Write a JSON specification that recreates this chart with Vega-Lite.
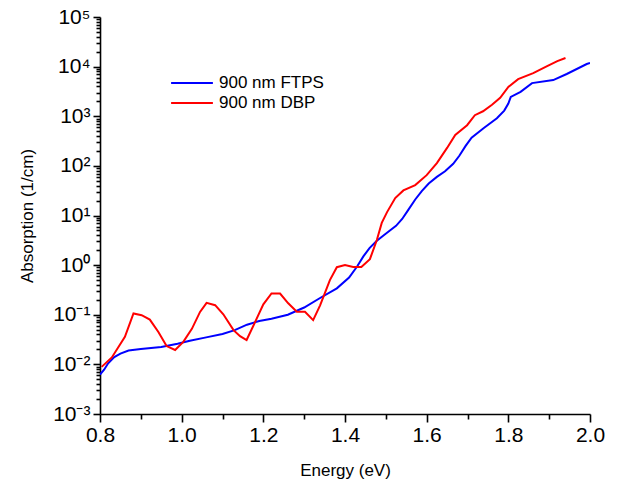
{
  "$schema": "https://vega.github.io/schema/vega-lite/v6.json",
  "width": 490,
  "height": 397,
  "autosize": "none",
  "padding": {"left": 100, "top": 17, "right": 28, "bottom": 70},
  "background": "white",
  "config": {
    "view": {"stroke": null},
    "font": "Liberation Sans",
    "axis": {"grid": false, "domainColor": "black", "tickColor": "black", "domainWidth": 1.6, "tickWidth": 1.6, "labelColor": "black", "titleColor": "black", "labelFont": "Liberation Sans", "titleFont": "Liberation Sans", "titleFontWeight": "normal"}
  },
  "data": {
    "values": [
      {"E": 0.800, "A": 0.0062, "s": "900 nm FTPS"},
      {"E": 0.810, "A": 0.0078, "s": "900 nm FTPS"},
      {"E": 0.820, "A": 0.0105, "s": "900 nm FTPS"},
      {"E": 0.835, "A": 0.014, "s": "900 nm FTPS"},
      {"E": 0.850, "A": 0.0165, "s": "900 nm FTPS"},
      {"E": 0.870, "A": 0.019, "s": "900 nm FTPS"},
      {"E": 0.900, "A": 0.0205, "s": "900 nm FTPS"},
      {"E": 0.950, "A": 0.0225, "s": "900 nm FTPS"},
      {"E": 0.990, "A": 0.026, "s": "900 nm FTPS"},
      {"E": 1.020, "A": 0.030, "s": "900 nm FTPS"},
      {"E": 1.060, "A": 0.035, "s": "900 nm FTPS"},
      {"E": 1.100, "A": 0.041, "s": "900 nm FTPS"},
      {"E": 1.130, "A": 0.049, "s": "900 nm FTPS"},
      {"E": 1.160, "A": 0.063, "s": "900 nm FTPS"},
      {"E": 1.190, "A": 0.075, "s": "900 nm FTPS"},
      {"E": 1.220, "A": 0.083, "s": "900 nm FTPS"},
      {"E": 1.260, "A": 0.100, "s": "900 nm FTPS"},
      {"E": 1.300, "A": 0.140, "s": "900 nm FTPS"},
      {"E": 1.340, "A": 0.220, "s": "900 nm FTPS"},
      {"E": 1.380, "A": 0.340, "s": "900 nm FTPS"},
      {"E": 1.410, "A": 0.560, "s": "900 nm FTPS"},
      {"E": 1.430, "A": 0.95, "s": "900 nm FTPS"},
      {"E": 1.445, "A": 1.5, "s": "900 nm FTPS"},
      {"E": 1.460, "A": 2.2, "s": "900 nm FTPS"},
      {"E": 1.478, "A": 3.1, "s": "900 nm FTPS"},
      {"E": 1.495, "A": 4.0, "s": "900 nm FTPS"},
      {"E": 1.510, "A": 5.0, "s": "900 nm FTPS"},
      {"E": 1.525, "A": 6.2, "s": "900 nm FTPS"},
      {"E": 1.540, "A": 8.5, "s": "900 nm FTPS"},
      {"E": 1.555, "A": 13, "s": "900 nm FTPS"},
      {"E": 1.572, "A": 21, "s": "900 nm FTPS"},
      {"E": 1.588, "A": 31, "s": "900 nm FTPS"},
      {"E": 1.605, "A": 44, "s": "900 nm FTPS"},
      {"E": 1.625, "A": 60, "s": "900 nm FTPS"},
      {"E": 1.645, "A": 78, "s": "900 nm FTPS"},
      {"E": 1.665, "A": 110, "s": "900 nm FTPS"},
      {"E": 1.680, "A": 160, "s": "900 nm FTPS"},
      {"E": 1.695, "A": 250, "s": "900 nm FTPS"},
      {"E": 1.710, "A": 370, "s": "900 nm FTPS"},
      {"E": 1.740, "A": 580, "s": "900 nm FTPS"},
      {"E": 1.772, "A": 910, "s": "900 nm FTPS"},
      {"E": 1.790, "A": 1300, "s": "900 nm FTPS"},
      {"E": 1.800, "A": 1800, "s": "900 nm FTPS"},
      {"E": 1.806, "A": 2450, "s": "900 nm FTPS"},
      {"E": 1.830, "A": 3100, "s": "900 nm FTPS"},
      {"E": 1.858, "A": 4650, "s": "900 nm FTPS"},
      {"E": 1.910, "A": 5350, "s": "900 nm FTPS"},
      {"E": 1.943, "A": 7100, "s": "900 nm FTPS"},
      {"E": 1.992, "A": 11300, "s": "900 nm FTPS"},
      {"E": 2.000, "A": 11800, "s": "900 nm FTPS"},
      {"E": 0.804, "A": 0.0089, "s": "900 nm DBP"},
      {"E": 0.829, "A": 0.0138, "s": "900 nm DBP"},
      {"E": 0.861, "A": 0.036, "s": "900 nm DBP"},
      {"E": 0.882, "A": 0.106, "s": "900 nm DBP"},
      {"E": 0.902, "A": 0.098, "s": "900 nm DBP"},
      {"E": 0.922, "A": 0.080, "s": "900 nm DBP"},
      {"E": 0.943, "A": 0.045, "s": "900 nm DBP"},
      {"E": 0.963, "A": 0.0234, "s": "900 nm DBP"},
      {"E": 0.984, "A": 0.0195, "s": "900 nm DBP"},
      {"E": 1.004, "A": 0.0284, "s": "900 nm DBP"},
      {"E": 1.025, "A": 0.052, "s": "900 nm DBP"},
      {"E": 1.045, "A": 0.114, "s": "900 nm DBP"},
      {"E": 1.061, "A": 0.174, "s": "900 nm DBP"},
      {"E": 1.082, "A": 0.156, "s": "900 nm DBP"},
      {"E": 1.102, "A": 0.102, "s": "900 nm DBP"},
      {"E": 1.127, "A": 0.049, "s": "900 nm DBP"},
      {"E": 1.143, "A": 0.037, "s": "900 nm DBP"},
      {"E": 1.159, "A": 0.031, "s": "900 nm DBP"},
      {"E": 1.180, "A": 0.072, "s": "900 nm DBP"},
      {"E": 1.200, "A": 0.162, "s": "900 nm DBP"},
      {"E": 1.220, "A": 0.268, "s": "900 nm DBP"},
      {"E": 1.241, "A": 0.268, "s": "900 nm DBP"},
      {"E": 1.261, "A": 0.170, "s": "900 nm DBP"},
      {"E": 1.282, "A": 0.115, "s": "900 nm DBP"},
      {"E": 1.302, "A": 0.115, "s": "900 nm DBP"},
      {"E": 1.322, "A": 0.078, "s": "900 nm DBP"},
      {"E": 1.339, "A": 0.155, "s": "900 nm DBP"},
      {"E": 1.363, "A": 0.50, "s": "900 nm DBP"},
      {"E": 1.380, "A": 0.91, "s": "900 nm DBP"},
      {"E": 1.400, "A": 1.0, "s": "900 nm DBP"},
      {"E": 1.420, "A": 0.92, "s": "900 nm DBP"},
      {"E": 1.440, "A": 0.92, "s": "900 nm DBP"},
      {"E": 1.461, "A": 1.32, "s": "900 nm DBP"},
      {"E": 1.478, "A": 3.2, "s": "900 nm DBP"},
      {"E": 1.490, "A": 7.1, "s": "900 nm DBP"},
      {"E": 1.503, "A": 11.7, "s": "900 nm DBP"},
      {"E": 1.523, "A": 22.5, "s": "900 nm DBP"},
      {"E": 1.543, "A": 32, "s": "900 nm DBP"},
      {"E": 1.572, "A": 41, "s": "900 nm DBP"},
      {"E": 1.600, "A": 65, "s": "900 nm DBP"},
      {"E": 1.625, "A": 114, "s": "900 nm DBP"},
      {"E": 1.650, "A": 230, "s": "900 nm DBP"},
      {"E": 1.670, "A": 420, "s": "900 nm DBP"},
      {"E": 1.699, "A": 660, "s": "900 nm DBP"},
      {"E": 1.718, "A": 1050, "s": "900 nm DBP"},
      {"E": 1.738, "A": 1260, "s": "900 nm DBP"},
      {"E": 1.760, "A": 1700, "s": "900 nm DBP"},
      {"E": 1.780, "A": 2350, "s": "900 nm DBP"},
      {"E": 1.800, "A": 3900, "s": "900 nm DBP"},
      {"E": 1.824, "A": 5600, "s": "900 nm DBP"},
      {"E": 1.861, "A": 7400, "s": "900 nm DBP"},
      {"E": 1.895, "A": 10200, "s": "900 nm DBP"},
      {"E": 1.920, "A": 12900, "s": "900 nm DBP"},
      {"E": 1.940, "A": 14900, "s": "900 nm DBP"}
    ]
  },
  "mark": {"type": "line", "strokeWidth": 2, "clip": true},
  "encoding": {
    "x": {
      "field": "E", "type": "quantitative",
      "scale": {"domain": [0.8, 2.0], "nice": false, "zero": false},
      "axis": {
        "title": "Energy (eV)",
        "titleFontSize": 17,
        "titlePadding": 17,
        "values": [0.8, 0.9, 1.0, 1.1, 1.2, 1.3, 1.4, 1.5, 1.6, 1.7, 1.8, 1.9, 2.0],
        "labelExpr": "round(datum.value*10) % 2 == 0 ? format(datum.value, '.1f') : ''",
        "labelFontSize": 21,
        "labelPadding": 2,
        "labelFlush": false,
        "labelOverlap": false,
        "tickSize": {"condition": {"test": "round(datum.value*10) % 2 == 0", "value": 8}, "value": 5}
      }
    },
    "y": {
      "field": "A", "type": "quantitative",
      "scale": {"type": "log", "domain": [0.001, 100000], "nice": false},
      "axis": {
        "title": "Absorption (1/cm)",
        "titleFontSize": 17,
        "titlePadding": 16,
        "values": [0.001,0.002,0.003,0.004,0.005,0.006,0.007,0.008,0.009,0.01,0.02,0.03,0.04,0.05,0.06,0.07,0.08,0.09,0.1,0.2,0.3,0.4,0.5,0.6,0.7,0.8,0.9,1,2,3,4,5,6,7,8,9,10,20,30,40,50,60,70,80,90,100,200,300,400,500,600,700,800,900,1000,2000,3000,4000,5000,6000,7000,8000,9000,10000,20000,30000,40000,50000,60000,70000,80000,90000,100000],
        "labelExpr": "datum.value == 0.001 ? '10⁻³' : datum.value == 0.01 ? '10⁻²' : datum.value == 0.1 ? '10⁻¹' : datum.value == 1 ? '10⁰' : datum.value == 10 ? '10¹' : datum.value == 100 ? '10²' : datum.value == 1000 ? '10³' : datum.value == 10000 ? '10⁴' : datum.value == 100000 ? '10⁵' : ''",
        "labelFontSize": 21,
        "labelPadding": 3,
        "labelFlush": false,
        "labelOverlap": false,
        "tickSize": {"condition": {"test": "indexof([0.001,0.01,0.1,1,10,100,1000,10000,100000], datum.value) >= 0", "value": 7}, "value": 4}
      }
    },
    "color": {
      "field": "s", "type": "nominal",
      "scale": {"domain": ["900 nm FTPS", "900 nm DBP"], "range": ["#0000ff", "#ff0000"]},
      "legend": {
        "title": null,
        "orient": "none",
        "legendX": 80,
        "legendY": 54,
        "padding": 0,
        "symbolType": "M-1.9,0H1.9",
        "symbolSize": 484,
        "symbolStrokeWidth": 2,
        "labelFontSize": 17,
        "labelFont": "Liberation Sans",
        "labelColor": "black",
        "labelOffset": 15,
        "rowPadding": 0
      }
    }
  }
}
